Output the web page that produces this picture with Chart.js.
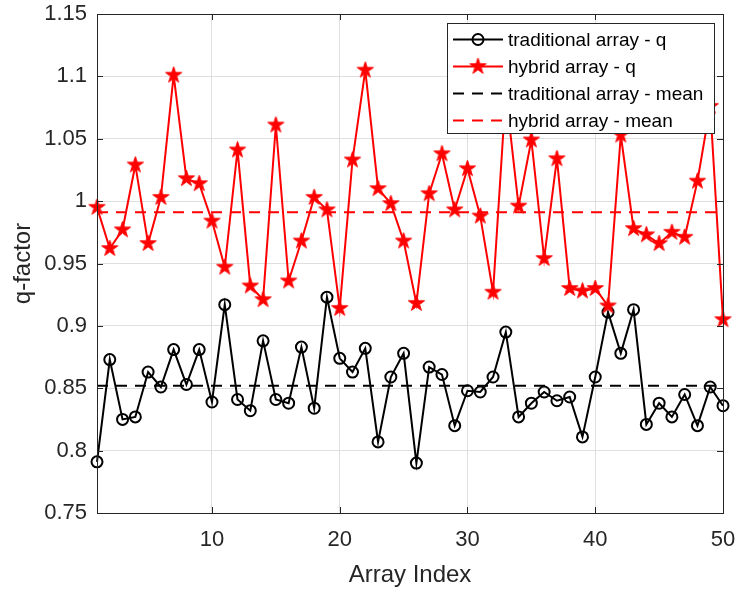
<!DOCTYPE html>
<html>
<head>
<meta charset="utf-8">
<script src="https://cdn.jsdelivr.net/npm/chart.js@4.4.1/dist/chart.umd.min.js"></script>
<style>
  html, body { margin: 0; padding: 0; background: #ffffff; }
  #wrap { width: 736px; height: 590px; }
</style>
</head>
<body>
<div id="wrap"><canvas id="c" width="736" height="590"></canvas></div>
<script>
// q-factor per array, indices 1..50
const arrayIndex = Array.from({ length: 50 }, (_, i) => i + 1);

const traditionalQ = [
  0.791, 0.873, 0.825, 0.827, 0.863, 0.851, 0.881, 0.853, 0.881, 0.839,
  0.917, 0.841, 0.832, 0.888, 0.841, 0.838, 0.883, 0.834, 0.923, 0.874,
  0.863, 0.882, 0.807, 0.859, 0.878, 0.790, 0.867, 0.861, 0.820, 0.848,
  0.847, 0.859, 0.895, 0.827, 0.838, 0.847, 0.840, 0.843, 0.811, 0.859,
  0.911, 0.878, 0.913, 0.821, 0.838, 0.827, 0.845, 0.820, 0.851, 0.836
];

const hybridQ = [
  0.995, 0.962, 0.977, 1.029, 0.966, 1.003, 1.101, 1.018, 1.014, 0.984,
  0.947, 1.041, 0.932, 0.921, 1.061, 0.936, 0.968, 1.003, 0.993, 0.914,
  1.033, 1.105, 1.010, 0.998, 0.968, 0.918, 1.006, 1.038, 0.993, 1.026,
  0.988, 0.927, 1.087, 0.996, 1.049, 0.954, 1.034, 0.930, 0.928, 0.930,
  0.916, 1.053, 0.978, 0.973, 0.966, 0.975, 0.971, 1.016, 1.076, 0.905
];

// mean levels, drawn across the whole index range
const meanRange = [1, 50];
const traditionalMean = [0.852, 0.852];
const hybridMean = [0.991, 0.991];

const xTickValues = [10, 20, 30, 40, 50];
const yTickValues = [0.75, 0.8, 0.85, 0.9, 0.95, 1.0, 1.05, 1.1, 1.15];
const yTickLabels = ['0.75', '0.8', '0.85', '0.9', '0.95', '1', '1.05', '1.1', '1.15'];

const seriesLabels = [
  'traditional array - q',
  'hybrid array - q',
  'traditional array - mean',
  'hybrid array - mean'
];

const FONT = '"Liberation Sans", Arial, Helvetica, sans-serif';
const AXIS_COLOR = '#262626';
const GRID_COLOR = '#dfdfdf';

// filled five-point star marker
function makeStar(outer, color) {
  const size = Math.ceil(outer * 2 + 2);
  const cv = document.createElement('canvas');
  cv.width = size; cv.height = size;
  const g = cv.getContext('2d');
  const cx = size / 2, cy = size / 2;
  const inner = outer * 0.382;
  g.beginPath();
  for (let i = 0; i < 10; i++) {
    const r = i % 2 === 0 ? outer : inner;
    const a = -Math.PI / 2 + i * Math.PI / 5;
    const px = cx + r * Math.cos(a), py = cy + r * Math.sin(a);
    if (i === 0) g.moveTo(px, py); else g.lineTo(px, py);
  }
  g.closePath();
  g.fillStyle = color;
  g.fill();
  g.lineWidth = 1;
  g.strokeStyle = color;
  g.stroke();
  return cv;
}
const starMarker = makeStar(8.5, '#ff0000');

const toPoints = (xs, ys) => ys.map((v, i) => ({ x: xs[i], y: v }));

// axes box with inward tick marks
const framePlugin = {
  id: 'frame',
  afterDatasetsDraw(chart) {
    const { ctx, chartArea: a, scales } = chart;
    const tl = 6;
    ctx.save();
    ctx.strokeStyle = AXIS_COLOR;
    ctx.lineWidth = 1;
    ctx.strokeRect(Math.round(a.left) + 0.5, Math.round(a.top) + 0.5,
      Math.round(a.right - a.left), Math.round(a.bottom - a.top));
    ctx.beginPath();
    xTickValues.forEach(v => {
      const px = Math.round(scales.x.getPixelForValue(v)) + 0.5;
      ctx.moveTo(px, a.bottom); ctx.lineTo(px, a.bottom - tl);
      ctx.moveTo(px, a.top); ctx.lineTo(px, a.top + tl);
    });
    yTickValues.forEach(v => {
      const py = Math.round(scales.y.getPixelForValue(v)) + 0.5;
      ctx.moveTo(a.left, py); ctx.lineTo(a.left + tl, py);
      ctx.moveTo(a.right, py); ctx.lineTo(a.right - tl, py);
    });
    ctx.stroke();
    ctx.restore();
  }
};

// boxed legend in the upper right of the plot
const legendBoxPlugin = {
  id: 'legendBox',
  afterDraw(chart) {
    const { ctx } = chart;
    const box = { x: 447, y: 23, w: 267, h: 110 };
    const rowY0 = 39.5, rowStep = 27;
    const lineX0 = 453, lineX1 = 503, textX = 508;
    ctx.save();
    ctx.fillStyle = '#ffffff';
    ctx.fillRect(box.x, box.y, box.w, box.h);
    ctx.strokeStyle = AXIS_COLOR;
    ctx.lineWidth = 1;
    ctx.strokeRect(box.x + 0.5, box.y + 0.5, box.w, box.h);
    chart.data.datasets.forEach((ds, i) => {
      const y = rowY0 + i * rowStep;
      ctx.save();
      ctx.strokeStyle = ds.borderColor;
      ctx.lineWidth = 2;
      ctx.setLineDash(ds.borderDash || []);
      ctx.beginPath();
      ctx.moveTo(lineX0, y); ctx.lineTo(lineX1, y);
      ctx.stroke();
      ctx.setLineDash([]);
      const mx = (lineX0 + lineX1) / 2;
      if (ds.pointStyle === 'circle' && ds.pointRadius > 0) {
        ctx.beginPath();
        ctx.arc(mx, y, ds.pointRadius, 0, Math.PI * 2);
        ctx.lineWidth = ds.pointBorderWidth;
        ctx.strokeStyle = ds.pointBorderColor;
        ctx.stroke();
      } else if (ds.pointStyle instanceof HTMLCanvasElement) {
        const im = ds.pointStyle;
        ctx.drawImage(im, mx - im.width / 2, y - im.height / 2);
      }
      ctx.restore();
      ctx.fillStyle = '#000000';
      ctx.font = '19px ' + FONT;
      ctx.textBaseline = 'middle';
      ctx.textAlign = 'left';
      ctx.fillText(ds.label, textX, y + 1);
    });
    ctx.restore();
  }
};

new Chart(document.getElementById('c'), {
  type: 'line',
  data: {
    datasets: [
      {
        label: seriesLabels[0],
        data: toPoints(arrayIndex, traditionalQ),
        borderColor: '#000000',
        borderWidth: 2,
        pointStyle: 'circle',
        pointRadius: 5.5,
        pointBorderWidth: 2,
        pointBorderColor: '#000000',
        pointBackgroundColor: 'rgba(0,0,0,0)',
        tension: 0,
        clip: false,
        order: 3
      },
      {
        label: seriesLabels[1],
        data: toPoints(arrayIndex, hybridQ),
        borderColor: '#ff0000',
        borderWidth: 2,
        pointStyle: starMarker,
        pointRadius: 8,
        pointBorderColor: '#ff0000',
        pointBackgroundColor: '#ff0000',
        tension: 0,
        clip: false,
        order: 2
      },
      {
        label: seriesLabels[2],
        data: toPoints(meanRange, traditionalMean),
        borderColor: '#000000',
        borderWidth: 2,
        borderDash: [11, 8],
        pointRadius: 0,
        order: 1
      },
      {
        label: seriesLabels[3],
        data: toPoints(meanRange, hybridMean),
        borderColor: '#ff0000',
        borderWidth: 2,
        borderDash: [11, 8],
        pointRadius: 0,
        order: 0
      }
    ]
  },
  options: {
    responsive: false,
    maintainAspectRatio: false,
    animation: false,
    events: [],
    layout: { padding: { top: 14, right: 13, left: 0, bottom: 0 } },
    plugins: {
      legend: { display: false },
      tooltip: { enabled: false },
      title: { display: false }
    },
    scales: {
      x: {
        type: 'linear',
        min: 1,
        max: 50,
        afterBuildTicks: s => { s.ticks = xTickValues.map(v => ({ value: v })); },
        afterFit: s => { s.height = 77; s.paddingLeft = 0; s.paddingRight = 0; },
        grid: { color: GRID_COLOR, lineWidth: 1, drawTicks: false },
        border: { display: false },
        ticks: {
          padding: 14,
          color: AXIS_COLOR,
          font: { family: FONT, size: 22 },
          maxRotation: 0,
          callback: v => String(v)
        },
        title: {
          display: true,
          text: 'Array Index',
          color: AXIS_COLOR,
          font: { family: FONT, size: 24 },
          padding: { top: 0, bottom: 0 }
        }
      },
      y: {
        type: 'linear',
        min: 0.75,
        max: 1.15,
        afterBuildTicks: s => { s.ticks = yTickValues.map(v => ({ value: v })); },
        afterFit: s => { s.width = 97; s.paddingTop = 0; s.paddingBottom = 0; },
        grid: { color: GRID_COLOR, lineWidth: 1, drawTicks: false },
        border: { display: false },
        ticks: {
          padding: 10,
          color: AXIS_COLOR,
          font: { family: FONT, size: 22 },
          callback: v => {
            const k = yTickValues.findIndex(t => Math.abs(t - v) < 1e-9);
            return k >= 0 ? yTickLabels[k] : '';
          }
        },
        title: {
          display: true,
          text: 'q-factor',
          color: AXIS_COLOR,
          font: { family: FONT, size: 24 },
          padding: { top: 9, bottom: 0 }
        }
      }
    }
  },
  plugins: [framePlugin, legendBoxPlugin]
});
</script>
</body>
</html>
